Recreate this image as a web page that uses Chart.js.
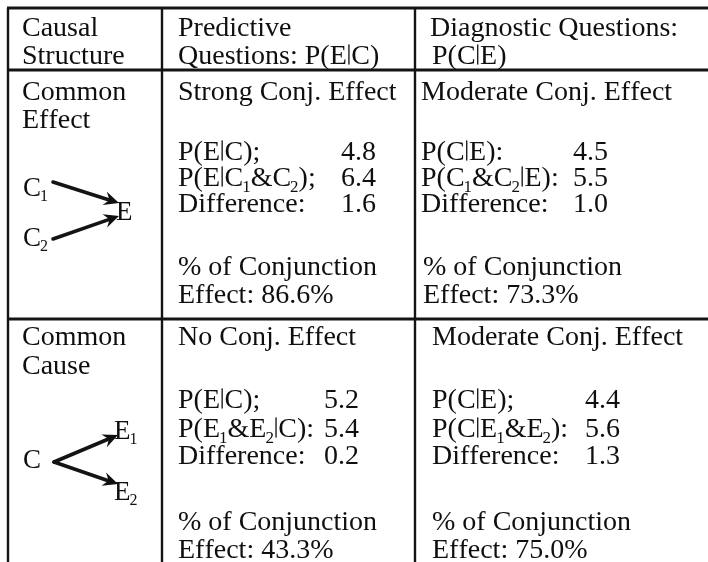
<!DOCTYPE html>
<html>
<head>
<meta charset="utf-8">
<script src="https://cdn.jsdelivr.net/npm/chart.js@4.4.1/dist/chart.umd.min.js"></script>
<style>
  html, body { margin: 0; padding: 0; background: #ffffff; }
  #wrap { width: 708px; height: 562px; }
</style>
</head>
<body>
<div id="wrap"><canvas id="c" width="708" height="562"></canvas></div>
<script>
// ---------------- DATA ----------------
const headers = [["Causal", "Structure"], ["Predictive", "Questions: P(E|C)"], ["Diagnostic Questions:", "P(C|E)"]];
const structures = [["Common", "Effect"], ["Common", "Cause"]];
const effectLabels = [["Strong Conj. Effect", "Moderate Conj. Effect"], ["No Conj. Effect", "Moderate Conj. Effect"]];
const measureLabels = [
  [["P(E|C);", "P(E|C_1&C_2);", "Difference:"], ["P(C|E):", "P(C_1&C_2|E):", "Difference:"]],
  [["P(E|C);", "P(E_1&E_2|C):", "Difference:"], ["P(C|E);", "P(C|E_1&E_2):", "Difference:"]]
];
const measureValues = [
  [[4.8, 6.4, 1.6], [4.5, 5.5, 1.0]],
  [[5.2, 5.4, 0.2], [4.4, 5.6, 1.3]]
];
const conjunctionPct = [[86.6, 73.3], [43.3, 75.0]];
const diagramNodes = [
  { causes: ["C_1", "C_2"], effects: ["E"] },
  { causes: ["C"], effects: ["E_1", "E_2"] }
];

// ---------------- LAYOUT (pixel units of the 708x562 page) ----------------
const FONT = "'Liberation Serif', 'Times New Roman', serif";
const FS = 28;
const DFS = 27;
const colLines = [8, 162, 415];
const colText = [22, 178, 421];
const col3TextRow2 = 432;
const hLines = [8, 70, 319];
const headerBase = [36, 64];
const headerX = [22, 178, 430];
const headerX2 = [22, 178, 432];
const rowBases = [
  { title: [100, 128], m: [160, 186, 212], pct: [275, 303] },
  { title: [345, 374], m: [408, 437, 464], pct: [530, 558] }
];
const valueX = [[341, 573], [324, 585]];

function drawRich(ctx, s, x, y, size) {
  // "_1" marks a subscript character
  let cx = x;
  for (let i = 0; i < s.length; i++) {
    const ch = s[i];
    if (ch === '_' && i + 1 < s.length) {
      const sub = s[i + 1];
      ctx.font = Math.round(size * 0.6) + "px " + FONT;
      ctx.fillText(sub, cx - 1, y + size * 0.2);
      cx += ctx.measureText(sub).width - 1;
      i++;
      continue;
    }
    ctx.font = size + "px " + FONT;
    if (ch === '|') {
      ctx.fillRect(cx + 1.5, y - size * 0.7, 1.3, size * 0.72);
      cx += size * 0.16;
      continue;
    }
    ctx.fillText(ch, cx, y);
    cx += ctx.measureText(ch).width;
  }
  return cx;
}

function arrow(ctx, X, Y, x1, y1, x2, y2) {
  const ax = X(x1), ay = Y(y1), bx = X(x2), by = Y(y2);
  const ang = Math.atan2(by - ay, bx - ax);
  const c = Math.cos(ang), s = Math.sin(ang);
  const L = 15, W = 7;
  const ex = bx - c * (L - 4), ey = by - s * (L - 4);
  ctx.save();
  ctx.lineWidth = 3.6;
  ctx.lineCap = 'round';
  ctx.beginPath(); ctx.moveTo(ax, ay); ctx.lineTo(ex, ey); ctx.stroke();
  ctx.beginPath();
  ctx.moveTo(bx, by);
  ctx.lineTo(bx - c * L - s * W, by - s * L + c * W);
  ctx.lineTo(bx - c * (L - 5), by - s * (L - 5));
  ctx.lineTo(bx - c * L + s * W, by - s * L - c * W);
  ctx.closePath(); ctx.fill();
  ctx.restore();
}

const tablePlugin = {
  id: 'tablePlugin',
  afterDraw(chart) {
    const ctx = chart.ctx;
    const xs = chart.scales.x, ys = chart.scales.y;
    const X = v => xs.getPixelForValue(v), Y = v => ys.getPixelForValue(v);
    ctx.save();
    ctx.fillStyle = '#0f0f0f';
    ctx.strokeStyle = '#141414';
    ctx.textBaseline = 'alphabetic';
    ctx.textAlign = 'left';

    // grid lines
    ctx.lineWidth = 3;
    hLines.forEach(h => { ctx.beginPath(); ctx.moveTo(X(colLines[0] - 1), Y(h)); ctx.lineTo(X(708), Y(h)); ctx.stroke(); });
    ctx.lineWidth = 2.4;
    colLines.forEach(cx => { ctx.beginPath(); ctx.moveTo(X(cx), Y(hLines[0])); ctx.lineTo(X(cx), Y(562)); ctx.stroke(); });

    // headers
    headers.forEach((h, i) => {
      drawRich(ctx, h[0], X(headerX[i]), Y(headerBase[0]), FS);
      drawRich(ctx, h[1], X(headerX2[i]), Y(headerBase[1]), FS);
    });

    structures.forEach((st, r) => {
      const b = rowBases[r];
      drawRich(ctx, st[0], X(colText[0]), Y(b.title[0]), FS);
      drawRich(ctx, st[1], X(colText[0]), Y(b.title[1]), FS);
      for (let c = 0; c < 2; c++) {
        const tx = (c === 1 && r === 1) ? col3TextRow2 : colText[c + 1];
        drawRich(ctx, effectLabels[r][c], X(tx), Y(b.title[0]), FS);
        measureLabels[r][c].forEach((lab, k) => {
          drawRich(ctx, lab, X(tx), Y(b.m[k]), FS);
          drawRich(ctx, measureValues[r][c][k].toFixed(1), X(valueX[r][c]), Y(b.m[k]), FS);
        });
        const px = (c === 1 && r === 0) ? tx + 2 : tx;
        drawRich(ctx, "% of Conjunction", X(px), Y(b.pct[0]), FS);
        drawRich(ctx, "Effect: " + conjunctionPct[r][c].toFixed(1) + "%", X(px), Y(b.pct[1]), FS);
      }
    });

    // diagrams
    const d1 = diagramNodes[0];
    drawRich(ctx, d1.causes[0], X(23), Y(196), DFS);
    drawRich(ctx, d1.causes[1], X(23), Y(246), DFS);
    drawRich(ctx, d1.effects[0], X(116), Y(220), DFS);
    arrow(ctx, X, Y, 53, 182, 119, 203);
    arrow(ctx, X, Y, 53, 239, 119, 216);

    const d2 = diagramNodes[1];
    drawRich(ctx, d2.causes[0], X(23), Y(468), DFS);
    drawRich(ctx, d2.effects[0], X(114), Y(439), DFS);
    drawRich(ctx, d2.effects[1], X(114), Y(500), DFS);
    arrow(ctx, X, Y, 54, 462, 118, 435);
    arrow(ctx, X, Y, 54, 462, 118, 484);

    ctx.restore();
  }
};

new Chart(document.getElementById('c'), {
  type: 'scatter',
  data: { datasets: [{ data: [], pointRadius: 0 }] },
  options: {
    responsive: false,
    animation: false,
    devicePixelRatio: 1,
    layout: { padding: 0 },
    plugins: { legend: { display: false }, tooltip: { enabled: false } },
    scales: {
      x: { type: 'linear', min: 0, max: 708, display: false },
      y: { type: 'linear', min: 0, max: 562, reverse: true, display: false }
    }
  },
  plugins: [tablePlugin]
});
</script>
</body>
</html>
